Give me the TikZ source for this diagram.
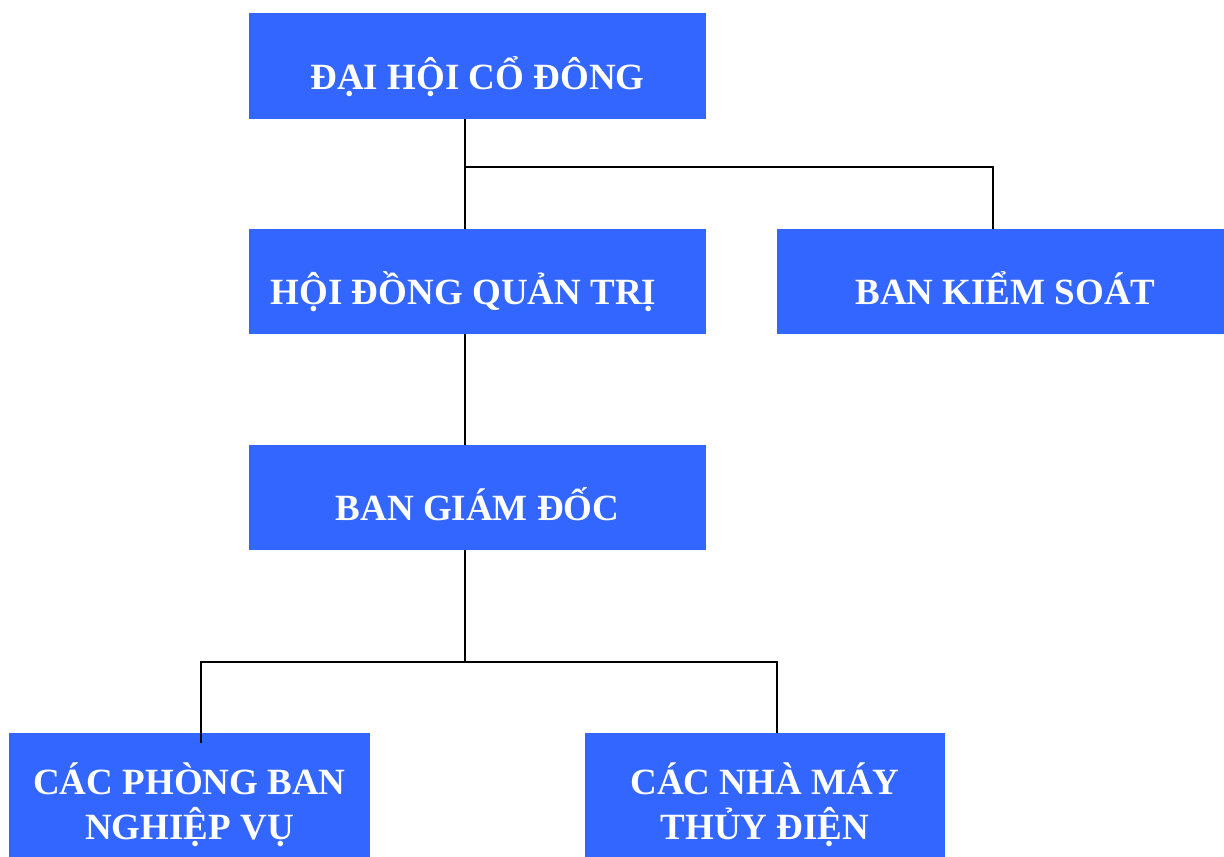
\documentclass[tikz,border=0pt]{standalone}
\usepackage{fontspec}
\setmainfont{Liberation Serif}
\usepackage{tikz}
\usetikzlibrary{positioning,calc}
\definecolor{chartblue}{RGB}{51,102,255}

\begin{document}
\begin{tikzpicture}[
    x=1pt, y=-1pt,
    box/.style={rectangle, fill=chartblue, text=white, inner sep=0pt,
                minimum width=457pt, minimum height=105pt, align=center,
                text height=46pt, text depth=0pt,
                font=\bfseries\fontsize{37}{45}\selectfont},
    unit/.style={box, minimum width=361pt, minimum height=124pt, text height=88pt},
    link/.style={draw=black, line width=2pt}
]
\useasboundingbox (0,0) rectangle (1224,857);
\node[box, minimum height=106pt] (dhcd) at (477.5,66) {ĐẠI HỘI CỔ ĐÔNG};
\node[box] (hdqt) at (477.5,281.5) {HỘI ĐỒNG QUẢN TRỊ\hspace*{28pt}};
\node[box, minimum width=447pt] (bks) at (1000.5,281.5) {\hspace*{10pt}BAN KIỂM SOÁT};
\node[box] (bgd) at (477.5,497.5) {BAN GIÁM ĐỐC};
\node[unit] (cpb) at (189.5,795) {CÁC PHÒNG BAN\\NGHIỆP VỤ};
\node[unit, minimum width=360pt] (cnm) at (765,795) {CÁC NHÀ MÁY\\THỦY ĐIỆN};
% junctions
\coordinate (top) at (465,167);
\coordinate (bksx) at (993,167);
\coordinate (mid) at (465,662);
\coordinate (cpbx) at (201,662);
\coordinate (cnmx) at (777,662);
\draw[link] (dhcd.south -| top) -- (hdqt.north -| top);
\draw[link] (top) -- (bksx) -- (bks.north -| bksx);
\draw[link] (hdqt.south -| top) -- (bgd.north -| top);
\draw[link] (bgd.south -| mid) -- (mid);
\draw[link] ($(cpb.north -| cpbx)+(0,10)$) -- (cpbx) -- (cnmx) -- (cnm.north -| cnmx);
\end{tikzpicture}
\end{document}
